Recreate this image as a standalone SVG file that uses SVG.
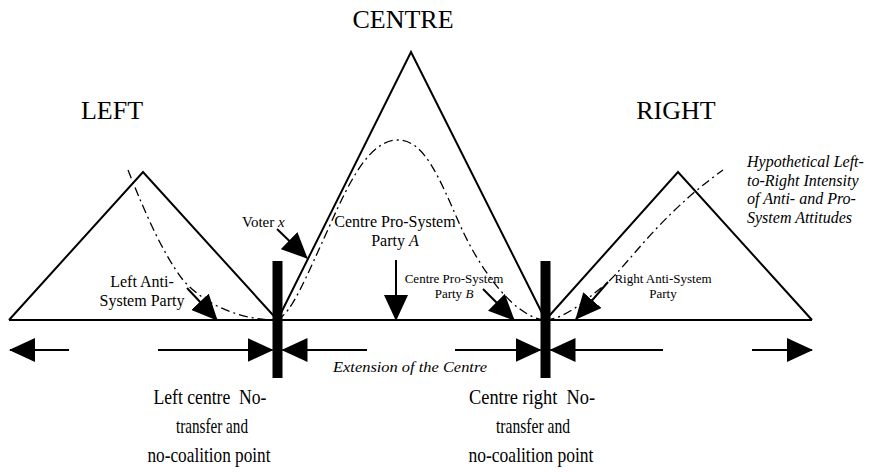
<svg xmlns="http://www.w3.org/2000/svg" width="869" height="472" viewBox="0 0 869 472">
<style>
.ln{fill:none;stroke:#000;stroke-width:2;stroke-linejoin:miter}
.ar{fill:none;stroke:#000;stroke-width:2;marker-end:url(#ah)}
.dd{fill:none;stroke:#000;stroke-width:1.3;stroke-dasharray:9,4,2,4}
.bar{fill:#000}
text{font-family:"Liberation Serif","Times New Roman",serif;fill:#000}
.t26{font-size:26px}
.t16{font-size:16px}
.t15{font-size:15px}
.t13{font-size:13px}
.it{font-style:italic}
.big{font-size:21px}
</style>
<defs>
<marker id="ah" markerUnits="userSpaceOnUse" markerWidth="26" markerHeight="24" viewBox="0 0 26 24" refX="25" refY="12" orient="auto">
<path d="M0,0 L26,12 L0,24 z" fill="#000"/>
</marker>
</defs>
<rect width="869" height="472" fill="#fff"/>

<g id="baseline"><path class="ln" d="M9,320 L812,320"/></g>
<g id="left-triangle"><path class="ln" d="M9,320 L143,172 L277.5,320"/></g>
<g id="centre-triangle"><path class="ln" d="M277.5,320 L411,52 L545.5,320"/></g>
<g id="right-triangle"><path class="ln" d="M545.5,320 L678,172 L812,320"/></g>

<g id="intensity-curve">
<path class="dd" d="M128,170 C140,200 160,250 183,280 C205,305 240,320 277.5,320"/>
<path class="dd" d="M277.5,320 C292,312 305,280 330,225 C350,180 370,140 398,140 C425,140 440,180 460,225 C480,270 515,318 545.5,320"/>
<path class="dd" d="M545.5,320 C565,318 580,305 607,283 C630,262 660,215 723,170"/>
</g>

<g id="bar-left"><rect class="bar" x="272.5" y="261" width="10" height="117"/></g>
<g id="bar-right"><rect class="bar" x="540.5" y="261" width="10" height="117"/></g>

<g id="connectors">
<line class="ar" x1="69" y1="350" x2="10" y2="350"/>
<line class="ar" x1="158" y1="350" x2="272.5" y2="350"/>
<line class="ar" x1="367" y1="350" x2="282.5" y2="350"/>
<line class="ar" x1="455" y1="350" x2="540.5" y2="350"/>
<line class="ar" x1="663" y1="350" x2="550.5" y2="350"/>
<line class="ar" x1="752" y1="350" x2="812" y2="350"/>
<line class="ar" x1="187" y1="288" x2="217" y2="320"/>
<line class="ar" x1="277" y1="229" x2="307" y2="258"/>
<line class="ar" x1="396" y1="260" x2="396" y2="320"/>
<line class="ar" x1="483" y1="289" x2="514" y2="320"/>
<line class="ar" x1="608" y1="282" x2="576" y2="319"/>
</g>

<g id="label-centre"><text class="t26" x="403" y="28" text-anchor="middle">CENTRE</text></g>
<g id="label-left"><text class="t26" x="112" y="119" text-anchor="middle">LEFT</text></g>
<g id="label-right"><text class="t26" x="676" y="119" text-anchor="middle">RIGHT</text></g>

<g id="label-hypothetical" class="t16 it">
<text x="747" y="167">Hypothetical Left-</text>
<text x="747" y="186">to-Right Intensity</text>
<text x="747" y="204">of Anti- and Pro-</text>
<text x="747" y="223">System Attitudes</text>
</g>

<g id="label-voter"><text class="t15" x="242" y="227">Voter <tspan class="it">x</tspan></text></g>
<g id="label-party-a" class="t16">
<text x="395" y="227" text-anchor="middle">Centre Pro-System</text>
<text x="395" y="246" text-anchor="middle">Party <tspan class="it">A</tspan></text>
</g>
<g id="label-party-b" class="t13">
<text x="454" y="283" text-anchor="middle">Centre Pro-System</text>
<text x="454" y="298" text-anchor="middle">Party <tspan class="it">B</tspan></text>
</g>
<g id="label-left-anti" class="t16">
<text x="142" y="287" text-anchor="middle">Left Anti-</text>
<text x="142" y="306" text-anchor="middle">System Party</text>
</g>
<g id="label-right-anti" class="t13">
<text x="663" y="283" text-anchor="middle">Right Anti-System</text>
<text x="663" y="298" text-anchor="middle">Party</text>
</g>
<g id="label-extension"><text class="it" font-size="14" x="333" y="372" textLength="154" lengthAdjust="spacingAndGlyphs">Extension of the Centre</text></g>

<g id="label-left-point" class="big">
<text x="210" y="404" text-anchor="middle" textLength="113" lengthAdjust="spacingAndGlyphs" xml:space="preserve">Left centre  No-</text>
<text x="212" y="433" text-anchor="middle" textLength="72" lengthAdjust="spacingAndGlyphs">transfer and</text>
<text x="209" y="462" text-anchor="middle" textLength="123" lengthAdjust="spacingAndGlyphs">no-coalition point</text>
</g>
<g id="label-right-point" class="big">
<text x="532" y="404" text-anchor="middle" textLength="126" lengthAdjust="spacingAndGlyphs" xml:space="preserve">Centre right  No-</text>
<text x="533" y="433" text-anchor="middle" textLength="74" lengthAdjust="spacingAndGlyphs">transfer and</text>
<text x="531" y="462" text-anchor="middle" textLength="125" lengthAdjust="spacingAndGlyphs">no-coalition point</text>
</g>
</svg>
